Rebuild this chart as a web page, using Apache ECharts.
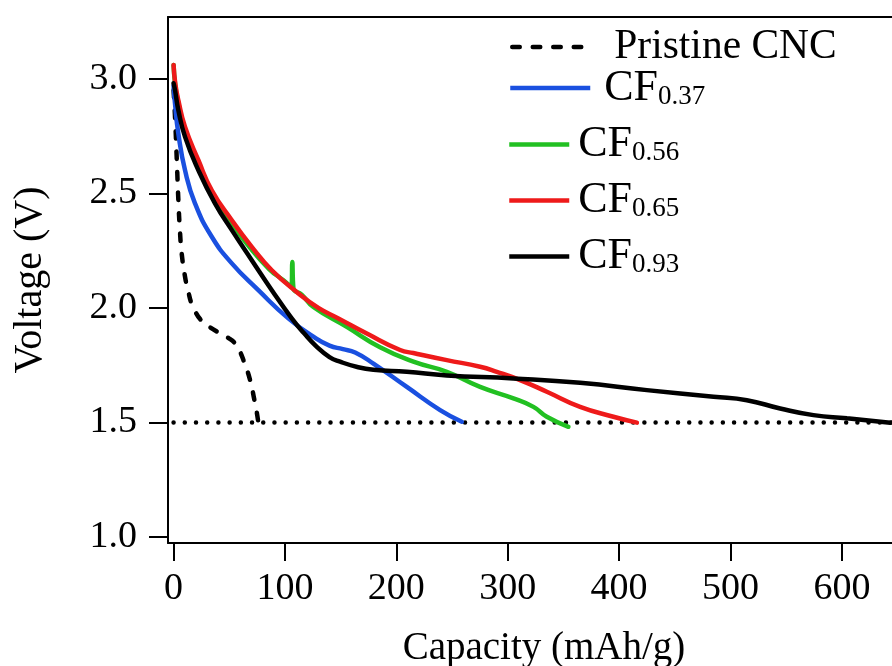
<!DOCTYPE html>
<html>
<head>
<meta charset="utf-8">
<script src="https://cdn.jsdelivr.net/npm/echarts@6/dist/echarts.min.js"></script>
<style>html,body{margin:0;padding:0;background:#fff}#c{width:892px;height:666px}</style>
</head>
<body>
<div id="c"></div>
<script>
// ---- data ----
const xTicks = [0, 100, 200, 300, 400, 500, 600];
const yTicks = [1.0, 1.5, 2.0, 2.5, 3.0];
const seriesNames = ['Pristine CNC', 'CF0.37', 'CF0.56', 'CF0.65', 'CF0.93'];
const cutoff = [[0, 1.5], [645, 1.5]];
const pristine = [[0,2.95],[1.3,2.833],[2.9,2.644],[4.3,2.47],[5.8,2.33],[7.3,2.237],[10.5,2.13],[13.3,2.07],[16,2.02],[19.3,1.985],[24,1.95],[29.8,1.925],[41.8,1.888],[50,1.866],[55.2,1.845],[59,1.815],[62.7,1.772],[68.7,1.685],[72.6,1.597],[74.5,1.55],[76.1,1.5]];
const cf037 = [[0,2.97],[1.3,2.891],[4.3,2.76],[10.3,2.6],[19.3,2.455],[34.3,2.31],[52.3,2.194],[76.1,2.077],[103,1.954],[125.5,1.874],[140,1.835],[152,1.82],[163,1.805],[179.4,1.757],[209.4,1.655],[239.3,1.554],[258.8,1.503]];
const cf056 = [[0,3.06],[1.5,2.97],[4,2.9],[9.5,2.789],[21,2.644],[33,2.513],[50.5,2.382],[68,2.266],[86,2.168],[98.6,2.12],[105.8,2.09],[106.6,2.2],[107.6,2.085],[115,2.058],[125.5,2.004],[155.5,1.917],[185.4,1.828],[215.3,1.765],[245.3,1.721],[275.2,1.655],[305.1,1.605],[323.1,1.568],[335.1,1.525],[354.5,1.481]];
const cf065 = [[0,3.06],[1.5,2.98],[4.3,2.906],[10.3,2.789],[22.3,2.644],[34.3,2.513],[52.3,2.382],[70.2,2.266],[88.2,2.164],[112.1,2.063],[130,2.0],[148,1.954],[173.5,1.888],[203.4,1.816],[215.3,1.803],[245.3,1.772],[275.2,1.743],[290.2,1.721],[311.1,1.685],[335.1,1.634],[365,1.568],[394.9,1.525],[416,1.499]];
const cf093 = [[0,2.98],[1.3,2.95],[4.3,2.862],[10.3,2.746],[22.3,2.6],[37.3,2.455],[52.3,2.339],[70.2,2.208],[88.2,2.077],[106.1,1.954],[117,1.89],[128.6,1.83],[140,1.785],[149.5,1.765],[165,1.742],[179.4,1.73],[209.4,1.721],[245.3,1.705],[305.1,1.692],[365,1.673],[424.9,1.641],[484.8,1.612],[514.7,1.597],[544.6,1.561],[574.5,1.532],[604.5,1.518],[643.4,1.499]];

const FONT = '"Liberation Serif", "Times New Roman", serif';
const colors = ['#000000', '#1a50e0', '#22c022', '#ee1a1a', '#000000'];
const datas = [pristine, cf037, cf056, cf065, cf093];
const dashPattern = [7.5, 13];

const chart = echarts.init(document.getElementById('c'), null, {renderer: 'canvas'});

function lineSeries(i) {
  const isDash = i === 0;
  return {
    name: seriesNames[i],
    type: 'line',
    data: datas[i],
    showSymbol: false,
    symbol: 'none',
    smooth: 0.5,
    silent: true,
    animation: false,
    z: 3 + i,
    lineStyle: isDash
      ? {color: colors[i], width: 4.5, type: dashPattern, cap: 'round'}
      : {color: colors[i], width: 4.5, cap: 'round', join: 'round'},
    itemStyle: {color: colors[i]}
  };
}

const richCF = {
  m: {fontFamily: FONT, fontSize: 44, lineHeight: 44, color: '#000', verticalAlign: 'bottom'},
  s: {fontFamily: FONT, fontSize: 27, lineHeight: 22, color: '#000', verticalAlign: 'bottom'}
};
function cfFormatter(name) {
  return '{m|CF}{s|' + name.slice(2) + '}';
}
const legendPos = [
  {left: 510, top: 26, w: 80, pad: 17},
  {left: 508, top: 66, w: 80, pad: 9},
  {left: 507, top: 122.5, w: 60, pad: 4},
  {left: 507, top: 178.5, w: 60, pad: 4},
  {left: 507, top: 234.5, w: 60, pad: 4}
];
const legends = legendPos.map((p, i) => {
  const lg = {
    data: [seriesNames[i]],
    left: p.left,
    top: p.top,
    padding: 0,
    itemWidth: p.w,
    itemHeight: 14,
    selectedMode: false,
    itemStyle: {opacity: 0},
    lineStyle: i === 0
      ? {width: 4.5, type: dashPattern, cap: 'round', color: colors[i]}
      : {width: 4.5, type: 'solid', cap: 'butt', color: colors[i]},
    textStyle: {fontFamily: FONT, fontSize: i === 0 ? 41.5 : 40, color: '#000', padding: [0, 0, 0, p.pad]}
  };
  if (i > 0) {
    lg.formatter = cfFormatter;
    lg.textStyle.rich = richCF;
  }
  return lg;
});

const option = {
  animation: false,
  backgroundColor: '#fff',
  grid: {left: 168, right: 0, top: 17, bottom: 123, containLabel: false, outerBoundsMode: 'none'},
  legend: legends,
  xAxis: [{
    type: 'value',
    min: -5, max: 645,
    position: 'bottom',
    name: 'Capacity (mAh/g)',
    nameLocation: 'middle',
    nameGap: 86,
    nameTextStyle: {fontFamily: FONT, fontSize: 39, color: '#000', padding: [0, 0, 0, 28]},
    axisLine: {show: true, onZero: false, lineStyle: {color: '#000', width: 2}},
    axisTick: {show: true, inside: false, length: 18, customValues: xTicks, lineStyle: {color: '#000', width: 2}},
    axisLabel: {customValues: xTicks, margin: 27, fontFamily: FONT, fontSize: 38, color: '#000'},
    splitLine: {show: false}
  }, {
    type: 'value',
    min: -5, max: 645,
    position: 'top',
    axisLine: {show: true, onZero: false, lineStyle: {color: '#000', width: 2}},
    axisTick: {show: false},
    axisLabel: {show: false},
    splitLine: {show: false}
  }],
  yAxis: {
    type: 'value',
    min: 0.974, max: 3.269,
    name: 'Voltage (V)',
    nameLocation: 'middle',
    nameGap: 118,
    nameTextStyle: {fontFamily: FONT, fontSize: 40, color: '#000'},
    axisLine: {show: true, onZero: false, lineStyle: {color: '#000', width: 2}},
    axisTick: {show: true, inside: false, length: 19, customValues: yTicks, lineStyle: {color: '#000', width: 2}},
    axisLabel: {customValues: yTicks, margin: 31, fontFamily: FONT, fontSize: 38, color: '#000',
      formatter: v => v.toFixed(1)},
    splitLine: {show: false}
  },
  series: [
    {
      name: 'cutoff',
      type: 'line',
      data: cutoff,
      showSymbol: false,
      symbol: 'none',
      silent: true,
      z: 2,
      lineStyle: {color: '#000', width: 4.5, type: [0.01, 11.2], cap: 'round'}
    }
  ].concat([0, 1, 2, 3, 4].map(lineSeries))
};
chart.setOption(option);
</script>
</body>
</html>
